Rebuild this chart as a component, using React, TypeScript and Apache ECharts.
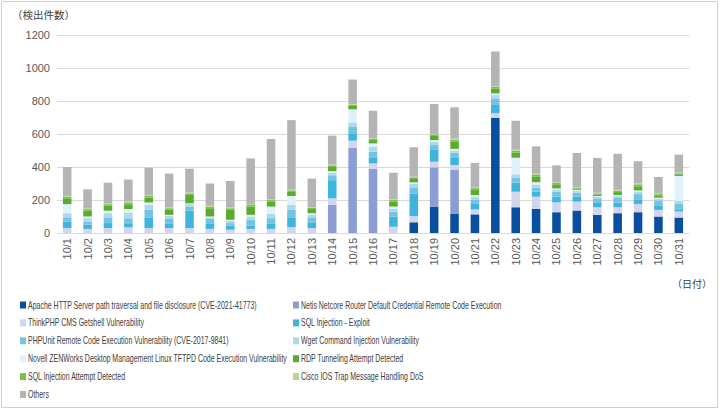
import React, { useEffect, useRef } from "react";
import * as echarts from "echarts";

const dates = Array.from({ length: 31 }, (_, i) => `10/${i + 1}`);

const seriesNames = [
  "Apache HTTP Server path traversal and file disclosure (CVE-2021-41773)",
  "Netis Netcore Router Default Credential Remote Code Execution",
  "ThinkPHP CMS Getshell Vulnerability",
  "SQL Injection - Exploit",
  "PHPUnit Remote Code Execution Vulnerability (CVE-2017-9841)",
  "Wget Command Injection Vulnerability",
  "Novell ZENWorks Desktop Management Linux TFTPD Code Execution Vulnerability",
  "RDP Tunneling Attempt Detected",
  "SQL Injection Attempt Detected",
  "Cisco IOS Trap Message Handling DoS",
  "Others",
];

const apache = [0,0,0,0,0,0,0,0,0,0,0,0,0,0,0,0,0,65,160,115,113,698,156,146,126,136,110,120,126,100,94];
const netis = [0,0,0,0,0,0,0,0,0,0,0,0,0,170,515,390,0,0,238,267,0,0,0,0,0,0,0,0,0,0,0];
const thinkphp = [30,25,30,35,30,30,30,25,20,25,25,35,30,40,45,32,38,38,34,30,30,28,94,74,60,54,46,36,50,40,36];
const sqlExploit = [40,25,30,20,65,25,105,30,25,20,30,60,35,110,45,37,60,137,71,47,33,50,54,30,34,30,30,28,24,24,14];
const phpunit = [25,20,35,35,45,30,25,30,15,35,35,45,30,30,40,34,30,37,30,28,24,40,32,24,30,24,24,28,36,34,32];
const wget = [25,20,25,35,30,20,15,10,15,20,25,30,15,15,25,30,20,20,20,13,20,20,20,20,14,12,10,12,14,10,18];
const novell = [55,10,15,20,15,5,5,5,5,10,45,54,10,10,80,20,12,10,10,10,10,10,100,14,6,6,4,6,8,6,152];
const rdp = [35,35,30,30,30,30,50,50,60,50,30,25,25,25,20,20,30,25,25,45,30,30,30,35,25,8,10,18,25,14,10];
const sqlAttempt = [10,10,10,10,10,10,10,10,10,10,10,10,8,10,8,8,10,6,8,10,12,10,12,12,8,5,6,8,12,8,6];
const cisco = [5,5,5,5,5,5,5,5,5,6,4,5,3,5,4,4,4,4,4,7,5,4,6,5,4,4,4,6,6,4,4];
const others = [175,115,125,135,165,205,145,135,160,276,366,420,174,175,148,166,161,178,182,190,148,210,176,165,103,206,211,218,134,100,109];

const seriesData = [apache, netis, thinkphp, sqlExploit, phpunit, wget, novell, rdp, sqlAttempt, cisco, others];
const colors = [
  "#0a4f9f", "#8b9dd2", "#d3d5ee", "#3fb5dc", "#74c3e4", "#acd9ec",
  "#e1f1f8", "#5aab2f", "#7cc04b", "#b4d98f", "#b4b4b4",
];

export default function App() {
  const ref = useRef<HTMLDivElement>(null);
  useEffect(() => {
    if (!ref.current) return;
    const chart = echarts.init(ref.current, null, { renderer: "svg" });

    // Legend drawn as graphic items (two columns, condensed text like the reference)
    const legendItems: any[] = [];
    seriesNames.forEach((name, i) => {
      const col = i % 2;
      const row = Math.floor(i / 2);
      const ix = col === 0 ? 20 : 293;
      const cy = 304.5 + row * 17.9;
      legendItems.push({
        type: "rect",
        shape: { x: ix, y: cy - 3, width: 6, height: 7 },
        style: { fill: colors[i] },
        silent: true,
      });
      legendItems.push({
        type: "text",
        x: ix + 8,
        y: cy + 0.5,
        scaleX: 0.665,
        style: {
          text: name,
          fontFamily: "Liberation Sans, sans-serif",
          fontSize: 10.5,
          fill: "#404040",
          verticalAlign: "middle",
          align: "left",
        },
        silent: true,
      });
    });

    chart.setOption({
      animation: false,
      color: colors,
      textStyle: { fontFamily: "Liberation Sans, sans-serif" },
      grid: { left: 57, right: 31, top: 35, bottom: 177 },
      legend: { show: false, data: seriesNames },
      graphic: [
        {
          type: "rect",
          shape: { x: 1.5, y: 1.5, width: 716, height: 406 },
          style: { fill: "none", stroke: "#d0d0d0", lineWidth: 1 },
          silent: true,
        },
        {
          type: "text",
          left: 12,
          top: 9,
          style: {
            text: "（検出件数）",
            fontFamily: "Noto Sans CJK JP",
            fontSize: 10.5,
            fill: "#404040",
          },
        },
        {
          type: "text",
          right: 8,
          top: 278,
          style: {
            text: "（日付）",
            fontFamily: "Noto Sans CJK JP",
            fontSize: 10,
            fill: "#404040",
          },
        },
        ...legendItems,
      ],
      xAxis: {
        type: "category",
        data: dates,
        axisLine: { lineStyle: { color: "#d9d9d9" } },
        axisTick: { show: false },
        axisLabel: {
          rotate: 90,
          interval: 0,
          color: "#595959",
          fontSize: 11,
          margin: 5,
        },
      },
      yAxis: {
        type: "value",
        min: 0,
        max: 1200,
        interval: 200,
        axisLine: { show: false },
        axisTick: { show: false },
        splitLine: { lineStyle: { color: "#d9d9d9" } },
        axisLabel: {
          color: "#595959",
          fontSize: 11,
          margin: 7,
          formatter: (v: number) => String(v),
        },
      },
      series: seriesNames.map((name, i) => ({
        name,
        type: "bar",
        stack: "total",
        barWidth: "42%",
        data: seriesData[i],
        itemStyle: { color: colors[i] },
      })),
    });
    return () => chart.dispose();
  }, []);
  return (
    <div
      ref={ref}
      style={{ position: "absolute", left: 0, top: 0, width: 720, height: 410, background: "#fff" }}
    />
  );
}
